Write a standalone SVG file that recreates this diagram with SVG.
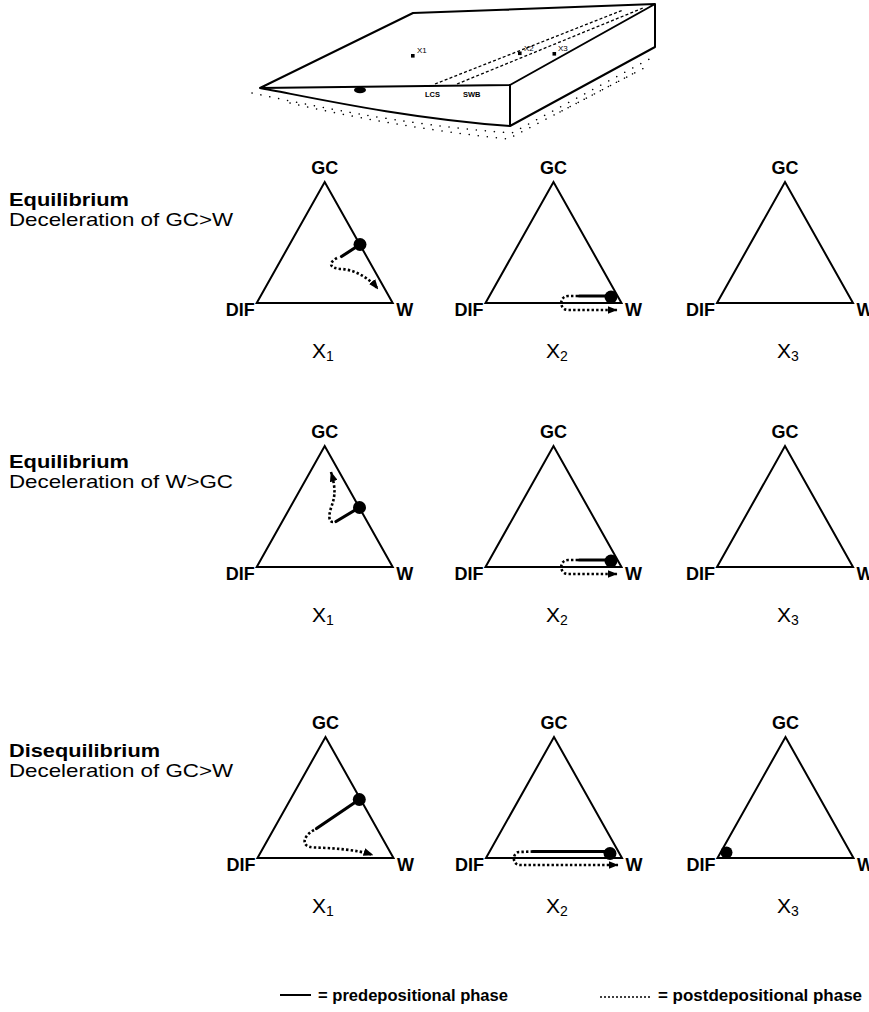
<svg xmlns="http://www.w3.org/2000/svg" width="869" height="1012" viewBox="0 0 869 1012">
  <style>
    .tri { fill: none; stroke: #000; stroke-width: 2; stroke-linejoin: miter; }
    .lbl { font-family: "Liberation Sans", Arial, sans-serif; font-weight: bold; font-size: 18px; fill: #000; }
    .xl { font-family: "Liberation Sans", Arial, sans-serif; font-size: 21px; fill: #000; }
    .sub { font-size: 14px; }
    .head { font-family: "Liberation Sans", Arial, sans-serif; font-weight: bold; font-size: 18.5px; fill: #000; }
    .desc { font-family: "Liberation Sans", Arial, sans-serif; font-size: 18.5px; fill: #000; }
    .pre { fill: none; stroke: #000; stroke-width: 3.2; stroke-linecap: round; }
    .post { fill: none; stroke: #000; stroke-width: 2.6; stroke-dasharray: 2.4 2.2; }
    .dot { fill: #000; }
    .edge { fill: none; stroke: #000; stroke-width: 2; stroke-linejoin: round; }
    .dash { fill: none; stroke: #000; stroke-width: 1.3; stroke-dasharray: 3 2.2; }
    .stip { fill: none; stroke: #000; stroke-width: 1.5; stroke-dasharray: 0.1 9; stroke-linecap: round; }
    .tiny { font-family: "Liberation Sans", Arial, sans-serif; font-size: 8px; fill: #000; }
    .tinyb { font-family: "Liberation Sans", Arial, sans-serif; font-weight: bold; font-size: 7.5px; fill: #000; }
    .leg { font-family: "Liberation Sans", Arial, sans-serif; font-weight: bold; font-size: 16px; fill: #000; }
  </style>
  <defs>
    <marker id="ah" viewBox="0 0 10 8" refX="9.5" refY="4" markerWidth="10" markerHeight="8" markerUnits="userSpaceOnUse" orient="auto">
      <path d="M0,0 L10,4 L0,8 Z" fill="#000"/>
    </marker>
    <!-- ternary triangle with corner labels, base centred on origin -->
    <g id="ternary">
      <path class="tri" d="M-68,0 L0,-121 L68,0 Z"/>
      <text class="lbl" x="0" y="-129" text-anchor="middle">GC</text>
      <text class="lbl" x="-70" y="13" text-anchor="end">DIF</text>
      <text class="lbl" x="71.5" y="13">W</text>
    </g>
  </defs>

  <rect width="869" height="1012" fill="#fff"/>

  <!-- block diagram of the slab with sampling sites -->
  <g id="block">
    <path class="stip" d="M252,93 C 300,103 400,125 512,133 L 655,56"/>
    <path class="stip" d="M290,103 C 350,117 430,131 508,139 L 648,66"/>
    <path class="stip" d="M560,112 L 636,72"/>
    <path class="edge" d="M260,88 L413,13 L655,4 L510,85 Z"/>
    <path class="edge" d="M510,85 L510,126 L655,47 L655,4"/>
    <path class="edge" d="M260,88 C 300,95 400,118 510,126"/>
    <ellipse cx="360" cy="90" rx="6" ry="3.2" fill="#000"/>
    <path class="dash" d="M435,84 L623,10"/>
    <path class="dash" d="M457,84 L643,8"/>
    <rect x="411" y="54" width="3.6" height="3.6" fill="#000"/>
    <text class="tiny" x="417" y="53">X1</text>
    <rect x="518" y="51.5" width="3.6" height="3.6" fill="#000"/>
    <text class="tiny" x="524" y="51">X2</text>
    <rect x="552.5" y="52" width="3.6" height="3.6" fill="#000"/>
    <text class="tiny" x="558" y="51">X3</text>
    <text class="tinyb" x="425" y="97">LCS</text>
    <text class="tinyb" x="463" y="97">SWB</text>
  </g>

  <!-- row captions -->
  <g id="row1-caption">
    <text class="head" x="9" y="206" textLength="120" lengthAdjust="spacingAndGlyphs">Equilibrium</text>
    <text class="desc" x="9" y="226" textLength="224" lengthAdjust="spacingAndGlyphs">Deceleration of GC&gt;W</text>
  </g>
  <g id="row2-caption">
    <text class="head" x="9" y="468" textLength="120" lengthAdjust="spacingAndGlyphs">Equilibrium</text>
    <text class="desc" x="9" y="488" textLength="224" lengthAdjust="spacingAndGlyphs">Deceleration of W&gt;GC</text>
  </g>
  <g id="row3-caption">
    <text class="head" x="9" y="757" textLength="151" lengthAdjust="spacingAndGlyphs">Disequilibrium</text>
    <text class="desc" x="9" y="777" textLength="224" lengthAdjust="spacingAndGlyphs">Deceleration of GC&gt;W</text>
  </g>

  <!-- ternary plots: row 1 -->
  <g id="r1-x1">
    <use href="#ternary" x="324.7" y="303"/>
    <text class="xl" x="312" y="358">X<tspan class="sub" dy="3">1</tspan></text>
  </g>
  <g id="r1-x2">
    <use href="#ternary" x="553.5" y="303"/>
    <text class="xl" x="546" y="358">X<tspan class="sub" dy="3">2</tspan></text>
  </g>
  <g id="r1-x3">
    <use href="#ternary" x="785" y="303"/>
    <text class="xl" x="777" y="358">X<tspan class="sub" dy="3">3</tspan></text>
  </g>

  <!-- row 2 -->
  <g id="r2-x1">
    <use href="#ternary" x="324.7" y="567"/>
    <text class="xl" x="312" y="622">X<tspan class="sub" dy="3">1</tspan></text>
  </g>
  <g id="r2-x2">
    <use href="#ternary" x="553.5" y="567"/>
    <text class="xl" x="546" y="622">X<tspan class="sub" dy="3">2</tspan></text>
  </g>
  <g id="r2-x3">
    <use href="#ternary" x="785" y="567"/>
    <text class="xl" x="777" y="622">X<tspan class="sub" dy="3">3</tspan></text>
  </g>

  <!-- row 3 -->
  <g id="r3-x1">
    <use href="#ternary" x="325.5" y="858"/>
    <text class="xl" x="312" y="913">X<tspan class="sub" dy="3">1</tspan></text>
  </g>
  <g id="r3-x2">
    <use href="#ternary" x="554" y="858"/>
    <text class="xl" x="546" y="913">X<tspan class="sub" dy="3">2</tspan></text>
  </g>
  <g id="r3-x3">
    <use href="#ternary" x="785.5" y="858"/>
    <text class="xl" x="777" y="913">X<tspan class="sub" dy="3">3</tspan></text>
  </g>

  <!-- composition trajectories: solid = predepositional, dotted = postdepositional -->
  <g id="traces">
    <!-- row 1 -->
    <path class="post" d="M337,258 C 328,263 329,268.5 342,269 C 356,270 370,279 378,289" marker-end="url(#ah)"/>
    <path class="pre" d="M360,244.5 L341.5,256.5"/>
    <circle class="dot" cx="360" cy="244.5" r="6.5"/>

    <path class="post" d="M578,296 L568,296 C 559,296 559,310 568,310 L617,310" marker-end="url(#ah)"/>
    <path class="pre" d="M579,296 L611,296"/>
    <circle class="dot" cx="611" cy="297" r="6.5"/>

    <!-- row 2 -->
    <path class="post" d="M333,522 C 328,522 329,514 331,508 C 334,499 337,492 331,472" marker-end="url(#ah)"/>
    <path class="pre" d="M359.5,507.5 L336,521.5"/>
    <circle class="dot" cx="359.5" cy="507.5" r="6.5"/>

    <path class="post" d="M578,560 L568,560 C 559,560 559,574 568,574 L617,574" marker-end="url(#ah)"/>
    <path class="pre" d="M579,560 L611,560"/>
    <circle class="dot" cx="611" cy="561" r="6.5"/>

    <!-- row 3 -->
    <path class="post" d="M314,830 C 303,836 300,847 314,847.5 C 335,848 358,850 373,855" marker-end="url(#ah)"/>
    <path class="pre" d="M359.3,799.5 L316.5,828.5"/>
    <circle class="dot" cx="359.3" cy="799.5" r="6.5"/>

    <path class="post" d="M533,851.5 L519,852 C 512,853 512,865 520,865 L618,865" marker-end="url(#ah)"/>
    <path class="pre" d="M533,851.5 L610,851.5"/>
    <circle class="dot" cx="610" cy="853.5" r="6.5"/>

    <circle class="dot" cx="726.5" cy="852.5" r="6"/>
  </g>

  <!-- legend -->
  <g id="legend">
    <path class="pre" d="M280,995 L311,995" style="stroke-width:2;stroke-linecap:butt"/>
    <text class="leg" x="318" y="1001" textLength="190" lengthAdjust="spacingAndGlyphs">= predepositional phase</text>
    <path class="post" d="M600,997 L650,997" style="stroke-width:1.6;stroke-dasharray:2 2"/>
    <text class="leg" x="658" y="1001" textLength="204" lengthAdjust="spacingAndGlyphs">= postdepositional phase</text>
  </g>
</svg>
